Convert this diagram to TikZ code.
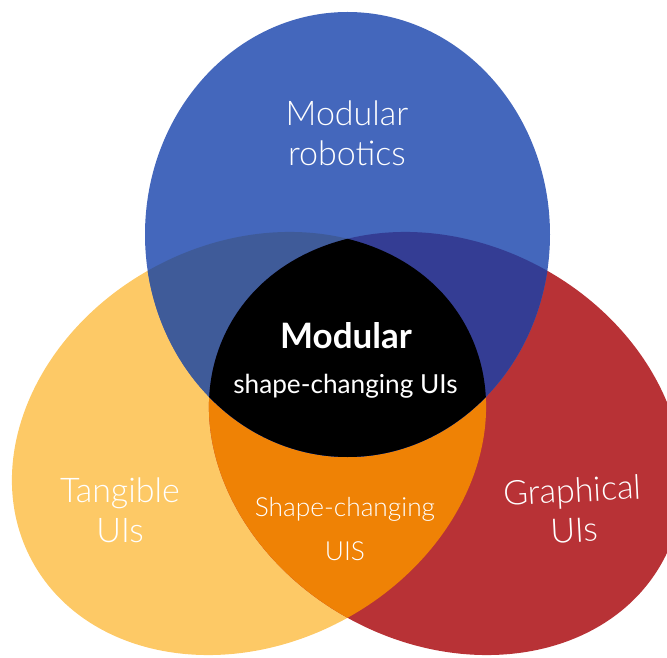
\documentclass[tikz,border=0pt]{standalone}
\usepackage{fontspec}
\setmainfont{Lato}
\IfFontExistsTF{Lato Light}{\newfontfamily\thinfont{Lato Light}}{\newfontfamily\thinfont{Lato}}
\usetikzlibrary{positioning}
\definecolor{robotblue}{HTML}{4467BC}
\definecolor{tangyellow}{HTML}{FDC966}
\definecolor{graphred}{HTML}{B83236}
\definecolor{shapeorange}{HTML}{EF8205}
\definecolor{slateblue}{HTML}{3F5B99}
\definecolor{navyblue}{HTML}{343D94}
\tikzset{lbl/.style={text=white, align=center, inner sep=0pt, font=\thinfont\fontsize{34}{40}\selectfont}}
\tikzset{corelbl/.style={text=white, anchor=base, inner sep=0pt}}
\tikzset{tangible/.style={rotate around={28.3:(249,213.5)}}}
\tikzset{graphical/.style={rotate around={-28.3:(446,213.5)}}}
\newcommand{\roboset}{(347.5,422.5) ellipse [x radius=202.5, y radius=222.5]}
\newcommand{\tangset}{(249,213.5) ellipse [x radius=246.7, y radius=200.2]}
\newcommand{\graphset}{(446,213.5) ellipse [x radius=246.7, y radius=200.2]}

\begin{document}
\begin{tikzpicture}[x=1pt,y=1pt]
\useasboundingbox (0,0) rectangle (667,657);

% the three sets
\fill[tangyellow, tangible] \tangset;
\fill[graphred, graphical] \graphset;
\begin{scope}
\clip[tangible] \tangset;
\fill[shapeorange, graphical] \graphset;
\end{scope}
\fill[robotblue] \roboset;

% overlaps with the top set
\begin{scope}
\clip \roboset;
\fill[slateblue, tangible] \tangset;
\fill[navyblue, graphical] \graphset;
\begin{scope}
\clip[tangible] \tangset;
\fill[black, graphical] \graphset;
\end{scope}
\end{scope}

\node[lbl] (robotics) at (347,523.5) {Modular\\robotics};
\node[lbl] (tangui) at (120,147) {Tangible\\UIs};
\node[lbl, rotate=3] (graphui) at (573,147) {Graphical\\UIs};
\node[lbl, font=\thinfont\fontsize{26.3}{44}\selectfont] (shapeui) at (345,127.8) {Shape-changing\\UIS};

\node[corelbl, font=\bfseries\fontsize{35}{38}\selectfont] (modular) at (346,308) {Modular};
\node[corelbl, font=\fontsize{26.2}{30}\selectfont] (modshape) at (345.5,263) {shape-changing UIs};
\end{tikzpicture}
\end{document}
